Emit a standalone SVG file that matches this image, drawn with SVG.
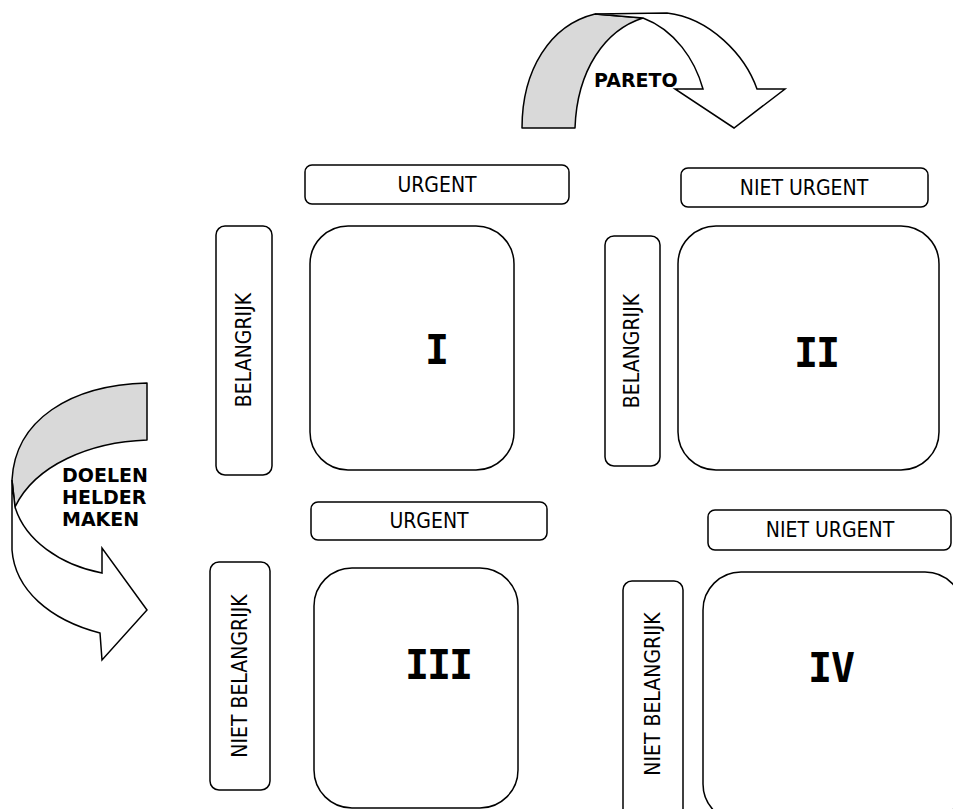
<svg xmlns="http://www.w3.org/2000/svg" width="953" height="809" viewBox="0 0 953 809">
  <style>
    .box { fill: #ffffff; stroke: #000000; stroke-width: 1.5; }
    .lbl { font-family: "DejaVu Sans Condensed", "DejaVu Sans", sans-serif; font-stretch: condensed; font-size: 21px; fill: #000000; text-anchor: middle; dominant-baseline: central; }
    .num { font-family: "DejaVu Sans Mono", monospace; font-weight: bold; font-size: 40px; fill: #000000; text-anchor: middle; }
    .bold { font-family: "DejaVu Sans", sans-serif; font-weight: bold; font-size: 19px; fill: #000000; }
    .band { fill: #d9d9d9; stroke: #000000; stroke-width: 1.5; stroke-linejoin: round; }
    .arrow { fill: #ffffff; stroke: #000000; stroke-width: 1.5; stroke-linejoin: miter; }
  </style>

  <!-- curved arrows -->
  <g id="connectors">
    <g id="pareto-arrow">
      <path class="band" d="M522,128 C522,70 550,25 595,14 L643,18 C605,30 577,70 575,128 Z"/>
      <path class="arrow" d="M595,14 L667,13 C710,18 745,55 757,89 L785,89 L734,128 L675,89 L703,89 C695,60 675,30 643,18 Z"/>
      <text class="bold" x="594" y="87">PARETO</text>
    </g>
    <g id="doelen-arrow">
      <path class="band" d="M147,383 C70,385 15,420 12,480 L15,507 C35,465 90,442 147,440 Z"/>
      <path class="arrow" d="M12,480 L12,550 C15,590 50,620 100,633 L102,660 L147,610 L102,548 L102,573 C60,565 25,540 15,507 Z"/>
      <text class="bold" x="62" y="482">DOELEN</text>
      <text class="bold" x="62" y="504">HELDER</text>
      <text class="bold" x="62" y="526">MAKEN</text>
    </g>
  </g>

  <!-- column headers, top row -->
  <g id="urgent-top">
    <rect class="box" x="305" y="165" width="264" height="39" rx="7"/>
    <text class="lbl" x="437" y="185">URGENT</text>
  </g>
  <g id="niet-urgent-top">
    <rect class="box" x="681" y="168" width="247" height="39" rx="7"/>
    <text class="lbl" x="804" y="188">NIET URGENT</text>
  </g>

  <!-- row headers, top row -->
  <g id="belangrijk-left">
    <rect class="box" x="216" y="226" width="56" height="249" rx="9"/>
    <text class="lbl" transform="translate(244,350) rotate(-90)">BELANGRIJK</text>
  </g>
  <g id="belangrijk-mid">
    <rect class="box" x="605" y="236" width="55" height="230" rx="9"/>
    <text class="lbl" transform="translate(632,351) rotate(-90)">BELANGRIJK</text>
  </g>

  <!-- quadrants, top row -->
  <g id="quadrant-I">
    <rect class="box" x="310" y="226" width="204" height="244" rx="38"/>
    <text class="num" x="437" y="364">I</text>
  </g>
  <g id="quadrant-II">
    <rect class="box" x="678" y="226" width="261" height="244" rx="38"/>
    <text class="num" x="816" y="367" letter-spacing="-2">II</text>
  </g>

  <!-- column headers, bottom row -->
  <g id="urgent-bottom">
    <rect class="box" x="311" y="502" width="236" height="38" rx="7"/>
    <text class="lbl" x="429" y="521">URGENT</text>
  </g>
  <g id="niet-urgent-bottom">
    <rect class="box" x="708" y="510" width="243" height="40" rx="7"/>
    <text class="lbl" x="830" y="530">NIET URGENT</text>
  </g>

  <!-- row headers, bottom row -->
  <g id="niet-belangrijk-left">
    <rect class="box" x="210" y="562" width="60" height="228" rx="9"/>
    <text class="lbl" transform="translate(240,676) rotate(-90)">NIET BELANGRIJK</text>
  </g>
  <g id="niet-belangrijk-mid">
    <rect class="box" x="623" y="581" width="60" height="240" rx="9"/>
    <text class="lbl" transform="translate(653,694) rotate(-90)">NIET BELANGRIJK</text>
  </g>

  <!-- quadrants, bottom row -->
  <g id="quadrant-III">
    <rect class="box" x="314" y="568" width="204" height="240" rx="38"/>
    <text class="num" x="438" y="679" letter-spacing="-2">III</text>
  </g>
  <g id="quadrant-IV">
    <rect class="box" x="703" y="572" width="260" height="250" rx="38"/>
    <text class="num" x="831" y="682" letter-spacing="-1">IV</text>
  </g>
</svg>
